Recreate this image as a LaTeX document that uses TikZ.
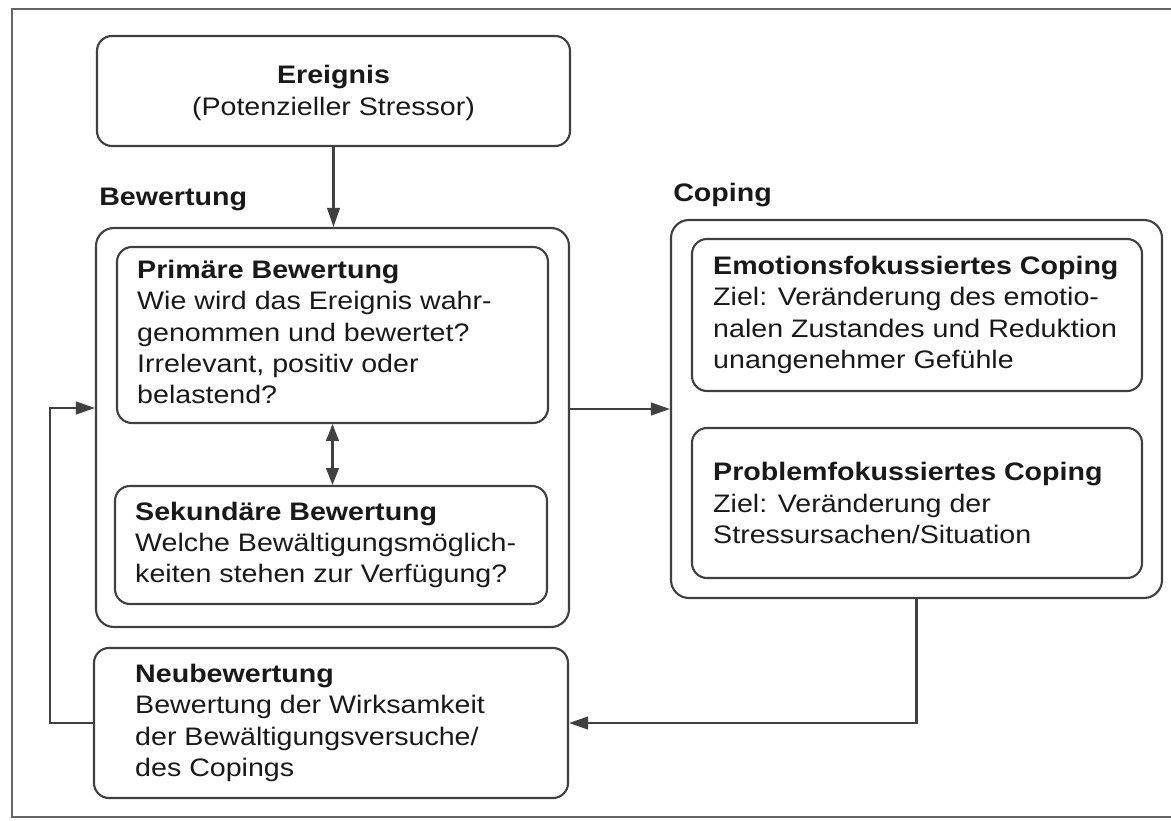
\documentclass[tikz,border=0pt]{standalone}
\usepackage{fontspec}
\setmainfont{Liberation Sans}[FakeStretch=1.13]
\usetikzlibrary{arrows.meta}
\newlength\px
\setlength\px{0.025cm}
\definecolor{ln}{gray}{0.25}
\definecolor{fr}{gray}{0.40}
\definecolor{tx}{gray}{0.10}
\begin{document}
\begin{tikzpicture}[x=0.025cm,y=-0.025cm,
  box/.style={draw=ln, line width=1.5pt, rounded corners=15\px, inner sep=0pt},
  outerbox/.style={box, rounded corners=18\px},
  txt/.style={inner sep=0pt, align=left, text=tx, font=\fontsize{18}{22.2}\selectfont},
  ctxt/.style={txt, align=center},
  lbl/.style={inner sep=0pt, text=tx, font=\fontsize{18}{22.2}\selectfont\bfseries},
  arr/.style={draw=ln, line width=1.5pt, -{Triangle[length=13.5pt,width=9pt]}},
  darr/.style={draw=ln, line width=1.5pt, {Triangle[length=12pt,width=9pt]}-{Triangle[length=12pt,width=9pt]}}
]
\useasboundingbox (0,0) rectangle (1171,821);
% frame
\draw[fr, line width=1.5pt] (1175,9) -- (12,9) -- (12,817) -- (1175,817);

% Ereignis
\node[box, minimum width=473\px, minimum height=110\px] (ereig) at (333.5,91) {};
\node[ctxt] (ereigtext) at ([yshift=-2\px]ereig.center) {\textbf{Ereignis}\\(Potenzieller Stressor)};

% Bewertung
\node[lbl, anchor=base west] (bewlbl) at (99,205) {Bewertung};
\node[outerbox, minimum width=473\px, minimum height=399\px] (bew) at (332.5,427.5) {};
\node[box, minimum width=431\px, minimum height=176\px] (prim) at (332.5,335) {};
\node[txt, anchor=west] (primtext) at ([xshift=21\px,yshift=3\px]prim.west)
  {\textbf{Primäre Bewertung}\\Wie wird das Ereignis wahr-\\genommen und bewertet?\\Irrelevant, positiv oder\\belastend?};
\node[box, minimum width=432\px, minimum height=118\px] (sek) at (331,545) {};
\node[txt, anchor=west] (sektext) at ([xshift=21\px]sek.west)
  {\textbf{Sekundäre Bewertung}\\Welche Bewältigungsmöglich-\\keiten stehen zur Verfügung?};

% Neubewertung
\node[box, minimum width=474\px, minimum height=150\px] (neu) at (331,723) {};
\node[txt, anchor=west] (neutext) at ([xshift=42\px]neu.west)
  {\textbf{Neubewertung}\\Bewertung der Wirksamkeit\\der Bewältigungsversuche/\\des Copings};

% Coping
\node[lbl, anchor=base west] (coplbl) at (673,201) {Coping};
\node[outerbox, minimum width=491\px, minimum height=378\px] (cop) at (916.5,409) {};
\node[box, minimum width=450\px, minimum height=152\px] (emo) at (917,315) {};
\node[txt, anchor=west] (emotext) at ([xshift=22\px]emo.west)
  {\textbf{Emotionsfokussiertes Coping}\\Ziel: Veränderung des emotio-\\nalen Zustandes und Reduktion\\unangenehmer Gefühle};
\node[box, minimum width=450\px, minimum height=150\px] (prob) at (917,503) {};
\node[txt, anchor=west] (probtext) at ([xshift=22\px]prob.west)
  {\textbf{Problemfokussiertes Coping}\\Ziel: Veränderung der\\Stressursachen/Situation};

% connectors
\draw[arr] (ereig.south) -- (ereig.south |- bew.north);
\draw[darr] (prim.south) -- (prim.south |- sek.north);
\draw[arr] ([yshift=18.5\px]bew.east) -- ([yshift=18.5\px]bew.east -| cop.west);
\draw[arr] (neu.west) -- ++(-43,0) |- ([yshift=19.5\px]bew.west);
\draw[arr] (cop.south) |- (neu.east);
\end{tikzpicture}
\end{document}
